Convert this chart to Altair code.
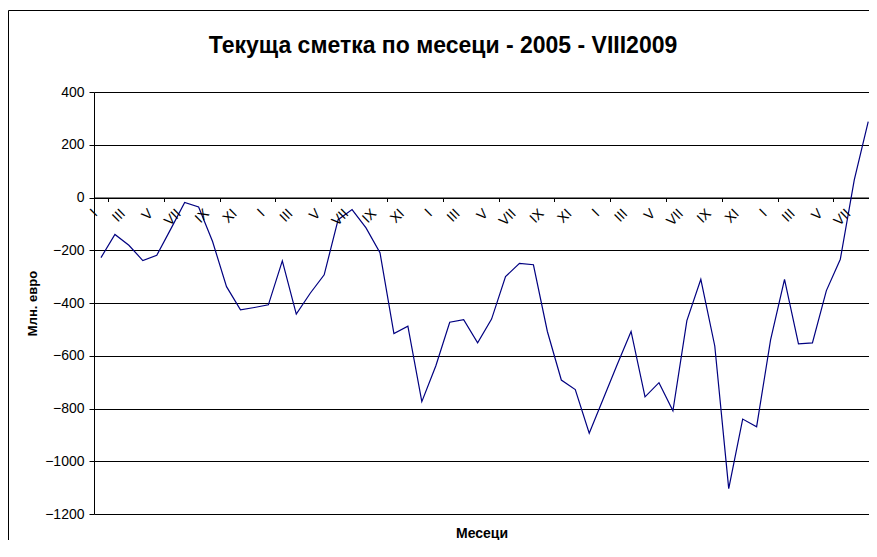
import altair as alt
import pandas as pd

# Monthly current account, Jan 2005 - Aug 2009 (mln EUR)
values = [-228, -140, -181, -239, -219, -120, -19, -36, -167, -338,
          -426, -417, -407, -240, -442, -363, -293, -84, -46, -115,
          -209, -516, -488, -774, -639, -473, -463, -551, -461, -300,
          -250, -255, -508, -692, -728, -894, -764, -634, -508, -756,
          -702, -809, -467, -310, -563, -1104, -840, -869, -540, -310,
          -555, -551, -353, -234, 67, 288]
month_labels = ['I', '', 'III', '', 'V', '', 'VII', '', 'IX', '', 'XI', '']
y_ticks = [-1200, -1000, -800, -600, -400, -200, 0, 200, 400]
title_text = "Текуща сметка по месеци - 2005 - VIII2009"
x_title = "Месеци"
y_title = "Млн. евро"

df = pd.DataFrame({"idx": list(range(len(values))), "value": values})
lab = pd.DataFrame({
    "idx": [i for i in range(len(values)) if month_labels[i % 12]],
    "label": [month_labels[i % 12] for i in range(len(values)) if month_labels[i % 12]],
})

FONT = "Liberation Sans"
W, H = 775, 422
STEP = 13.95
zero_y = H * 400 / 1600.0

x_scale = alt.Scale(domain=[-0.5, -0.5 + W / STEP], nice=False, zero=False)
y_scale = alt.Scale(domain=[-1200, 400], nice=False, zero=False)

x_enc = alt.X(
    "idx:Q",
    scale=x_scale,
    axis=alt.Axis(
        values=[k + 0.5 for k in range(55)],
        labels=False,
        offset=-(H - zero_y),
        grid=False,
        tickSize=4,
        tickColor="black",
        domainColor="black",
        title=x_title,
        titleFont=FONT,
        titleFontSize=14,
        titleFontWeight="bold",
        titleColor="black",
        titleBaseline="middle",
        titleY=336,
    ),
)

y_enc = alt.Y(
    "value:Q",
    scale=y_scale,
    axis=alt.Axis(
        values=y_ticks,
        format="d",
        grid=True,
        gridColor="black",
        gridWidth=1,
        domainColor="black",
        tickColor="black",
        tickSize=5,
        labelFont=FONT,
        labelFontSize=14,
        labelColor="black",
        labelPadding=5,
        title=y_title,
        titleFont=FONT,
        titleFontSize=13,
        titleFontWeight="bold",
        titleColor="black",
        titleX=-62,
        titleY=H / 2,
        titleAngle=270,
        titleAlign="center",
        titleBaseline="middle",
    ),
)

line = alt.Chart(df).mark_line(color="#000080", strokeWidth=1.2).encode(x=x_enc, y=y_enc)

# rotated month labels; offsets (dx, dy) apply in the rotated frame
month_text = alt.Chart(lab).mark_text(
    font=FONT, fontSize=14, align="right", baseline="middle",
    dx=-14, dy=6, color="black"
).encode(
    x=alt.X("idx:Q", scale=x_scale),
    y=alt.datum(0, scale=y_scale),
    text="label:N",
    angle=alt.value(315),
)

one = pd.DataFrame({"t": [title_text]})
frame_left = alt.Chart(one).mark_rule(color="black", strokeWidth=1).encode(
    x=alt.value(-85.5), y=alt.value(-81.5), y2=alt.value(H + 60)
)
frame_top = alt.Chart(one).mark_rule(color="black", strokeWidth=1).encode(
    x=alt.value(-85.5), x2=alt.value(W + 20), y=alt.value(-81.5)
)
title = alt.Chart(one).mark_text(
    font=FONT, fontSize=23, fontWeight="bold", align="center", baseline="alphabetic", color="black"
).encode(text="t:N", x=alt.value(349), y=alt.value(-39))

chart = alt.layer(frame_left, frame_top, line, month_text, title).properties(
    width=W,
    height=H,
    autosize=alt.AutoSizeParams(type="none"),
    padding={"left": 86, "top": 84, "right": 0, "bottom": 26},
    background="white",
).configure_view(strokeWidth=0)

chart.save("out.html", embed_options={"renderer": "svg", "actions": False})
